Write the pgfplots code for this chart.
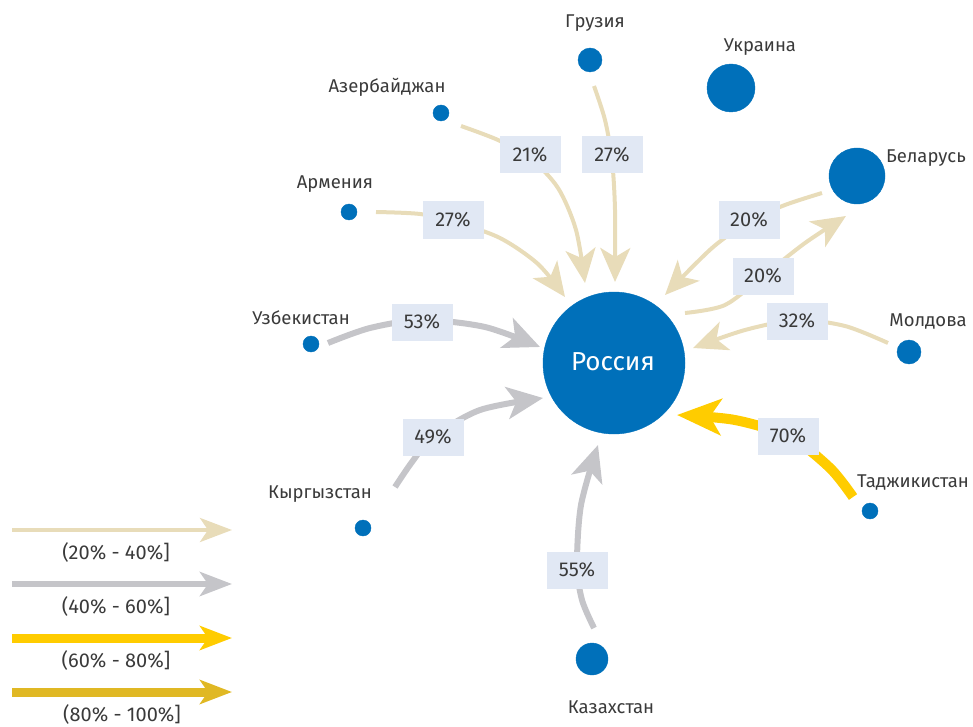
\documentclass[border=0pt]{standalone}
\usepackage{pgfplots}
\pgfplotsset{compat=1.18}
\usepackage{fontspec}
\setmainfont{Fira Sans}
\usetikzlibrary{arrows.meta}
\definecolor{cblue}{HTML}{0070BA}
\definecolor{cbeige}{HTML}{E8DCB9}
\definecolor{cgrey}{HTML}{C5C5C9}
\definecolor{cyellow}{HTML}{FFCC00}
\definecolor{cgold}{HTML}{E0B824}
\definecolor{cbox}{HTML}{E1E8F4}
\definecolor{ctext}{HTML}{3A3A3A}
\pgfplotstableread{
x y r
614 363 71
590 60 12
731 88 24
441 113 8
857 176 28
349 212 8
311 344 8
909 352 12
363 528 8
870 511 8
592 659 16
}\circles
\tikzset{lab/.style={text=ctext, font=\fontsize{18.5}{21}\selectfont},
  plab/.style={text=ctext, font=\fontsize{20}{23}\selectfont},
  pbox/.style={plab, fill=cbox, minimum width=61pt, minimum height=37pt, inner sep=0pt}}
\begin{document}
\begin{tikzpicture}
\path[use as bounding box] (0,0) rectangle (973pt,727pt);
\begin{axis}[at={(0,0)}, anchor=south west, scale only axis, width=973pt, height=727pt,
  xmin=0, xmax=973, ymin=0, ymax=727, y dir=reverse, hide axis, clip=false]
% circles
\addplot[scatter, only marks, mark=*, scatter/use mapped color={draw=cblue, fill=cblue},
  visualization depends on={\thisrow{r}\as\rad},
  scatter/@pre marker code/.append style={/tikz/mark size=\rad}] table[x=x, y=y] {\circles};
\addplot[only marks, mark=none, nodes near coords={Россия},
  every node near coord/.append style={anchor=center, text=white, font=\fontsize{26}{30}\selectfont}] coordinates {(613,362)};
% beige arrows
\addplot[cbeige, line width=4pt, smooth, -{Stealth[length=34pt, width=30pt, inset=9pt]}] coordinates {(376,212) (420,214) (455,222) (500,238) (538,264) (565,297)};
\addplot[cbeige, line width=4pt, smooth, -{Stealth[length=34pt, width=30pt, inset=9pt]}] coordinates {(461,126) (498,140) (530,158) (558,188) (576,230) (585,283)};
\addplot[cbeige, line width=4pt, smooth, -{Stealth[length=34pt, width=30pt, inset=9pt]}] coordinates {(594,86) (605,120) (612,160) (615,210) (615,282)};
\addplot[cbeige, line width=4pt, smooth, -{Stealth[length=34pt, width=30pt, inset=9pt]}] coordinates {(822,193) (785,205) (750,221) (712,248) (665,295)};
\addplot[cbeige, line width=4pt, smooth, -{Stealth[length=34pt, width=30pt, inset=9pt]}] coordinates {(685,313) (725,305) (763,276) (805,243) (846,216)};
\addplot[cbeige, line width=4pt, smooth, -{Stealth[length=34pt, width=30pt, inset=9pt]}] coordinates {(888,343) (845,326) (797,320) (745,330) (693,348)};
% grey arrows
\addplot[cgrey, line width=6pt, smooth, -{Stealth[length=36pt, width=32pt, inset=9pt]}] coordinates {(328,343) (370,328) (422,320) (485,327) (540,347)};
\addplot[cgrey, line width=6pt, smooth, -{Stealth[length=36pt, width=32pt, inset=9pt]}] coordinates {(395,487) (412,462) (433,437) (480,410) (543,398)};
\addplot[cgrey, line width=6pt, smooth, -{Stealth[length=36pt, width=32pt, inset=9pt]}] coordinates {(594,628) (582,600) (577,565) (581,505) (598,445)};
% yellow arrow
\addplot[cyellow, line width=10pt, smooth, -{Stealth[length=44pt, width=36pt, inset=11pt]}] coordinates {(853,497) (830,468) (790,437) (735,420) (677,415)};
% legend arrows
\addplot[cbeige, line width=4pt, -{Stealth[length=32pt, width=24pt, inset=8pt]}] coordinates {(12,530) (232,530)};
\addplot[cgrey, line width=6pt, -{Stealth[length=32pt, width=24pt, inset=8pt]}] coordinates {(12,584) (232,584)};
\addplot[cyellow, line width=9pt, -{Stealth[length=32pt, width=24pt, inset=8pt]}] coordinates {(12,638) (232,638)};
\addplot[cgold, line width=9pt, -{Stealth[length=32pt, width=24pt, inset=8pt]}] coordinates {(12,692) (232,692)};
% percent boxes
\node[pbox] at (axis cs:453,220) {27\%};
\node[pbox] at (axis cs:530,155) {21\%};
\node[pbox] at (axis cs:612,155) {27\%};
\node[pbox] at (axis cs:749,220) {20\%};
\node[pbox] at (axis cs:763,276) {20\%};
\node[pbox] at (axis cs:797,321) {32\%};
\node[pbox] at (axis cs:422,322) {53\%};
\node[pbox] at (axis cs:433,437) {49\%};
\node[pbox] at (axis cs:577,570) {55\%};
\node[pbox] at (axis cs:788,436) {70\%};
% country labels
\node[lab] at (axis cs:595,23) {Грузия};
\node[lab] at (axis cs:760,47) {Украина};
\node[lab] at (axis cs:387,87) {Азербайджан};
\node[lab] at (axis cs:926,158) {Беларусь};
\node[lab] at (axis cs:335,184) {Армения};
\node[lab] at (axis cs:301,318) {Узбекистан};
\node[lab] at (axis cs:928,322) {Молдова};
\node[lab] at (axis cs:320,494) {Кыргызстан};
\node[lab] at (axis cs:913,483) {Таджикистан};
\node[lab] at (axis cs:611,707) {Казахстан};
% legend labels
\node[plab] at (axis cs:116,552) {(20\% - 40\%]};
\node[plab] at (axis cs:116,606) {(40\% - 60\%]};
\node[plab] at (axis cs:116,660) {(60\% - 80\%]};
\node[plab] at (axis cs:122,714) {(80\% - 100\%]};
\end{axis}
\end{tikzpicture}
\end{document}
